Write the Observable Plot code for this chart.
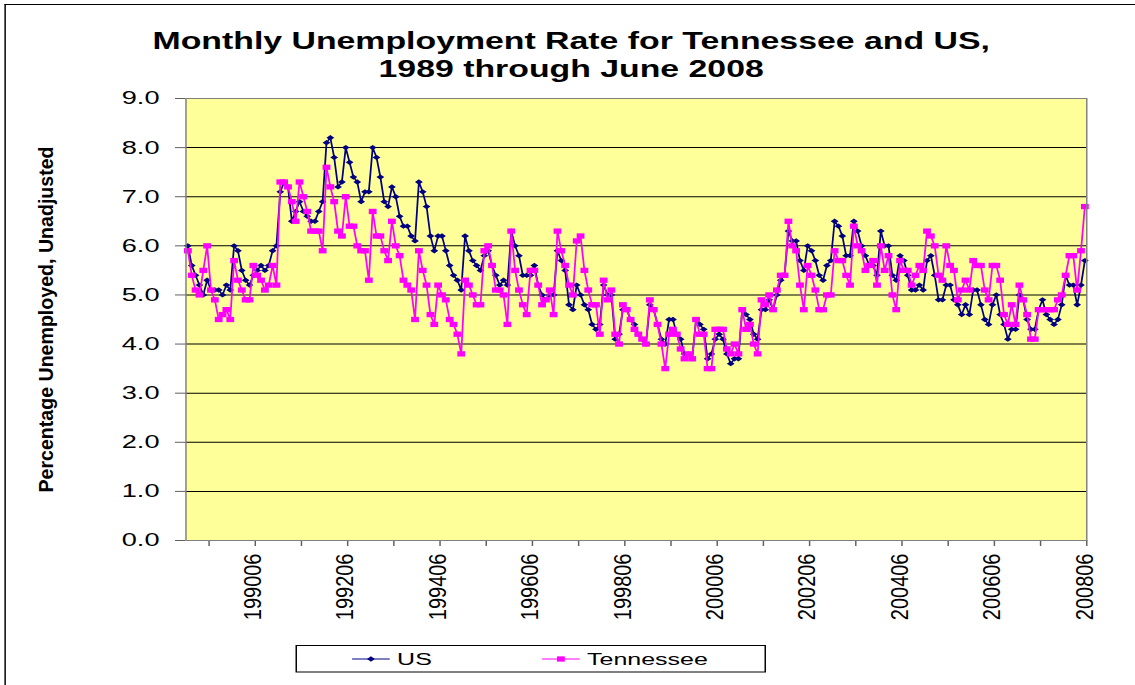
<!DOCTYPE html>
<html>
<head>
<meta charset="utf-8">
<script src="https://cdn.jsdelivr.net/npm/d3@7"></script>
<script src="https://cdn.jsdelivr.net/npm/@observablehq/plot@0.6"></script>
<style>
  html, body { margin: 0; padding: 0; background: #fff; }
  body { width: 1135px; height: 685px; overflow: hidden; position: relative;
         font-family: Arial, "Liberation Sans", sans-serif; color: #000; }
  /* the whole chart is laid out narrow and widened as one piece */
  #chart { position: absolute; left: 0; top: 0; width: 772px; height: 685px;
           transform: scaleX(1.4702); transform-origin: 0 0; }
  #border { position: absolute; left: 3.4px; top: 3.5px; width: 900px; height: 900px;
            border-left: 1px solid #000; border-top: 1px solid #000; }
  #title { position: absolute; left: 0; top: 27px; width: 777px; text-align: center;
           font-weight: bold; font-size: 23px; line-height: 28px; }
  #plot { position: absolute; left: 0; top: 85px; }
  #legend { position: absolute; left: 200.7px; top: 645px; }
</style>
</head>
<body>
<div id="chart">
  <div id="border"></div>
  <div id="title">Monthly Unemployment Rate for Tennessee and US,<br>1989 through June 2008</div>
  <div id="plot"></div>
  <div id="legend"></div>
</div>
<script>
// Monthly rates, January 1989 through June 2008 (percent, not seasonally adjusted)
const firstYear = 1989;
const usRate = [
  6.0, 5.6, 5.4, 5.2, 5.0, 5.3, 5.1, 5.1, 5.1, 5.0, 5.2, 5.1,   // 1989
  6.0, 5.9, 5.5, 5.3, 5.2, 5.4, 5.5, 5.6, 5.5, 5.6, 5.9, 6.0,   // 1990
  7.1, 7.3, 7.2, 6.5, 6.7, 6.9, 6.7, 6.6, 6.5, 6.5, 6.7, 6.9,   // 1991
  8.1, 8.2, 7.8, 7.2, 7.3, 8.0, 7.7, 7.4, 7.3, 6.9, 7.1, 7.1,   // 1992
  8.0, 7.8, 7.4, 6.9, 6.8, 7.2, 7.0, 6.6, 6.4, 6.4, 6.2, 6.1,   // 1993
  7.3, 7.1, 6.8, 6.2, 5.9, 6.2, 6.2, 5.9, 5.6, 5.4, 5.3, 5.1,   // 1994
  6.2, 5.9, 5.7, 5.6, 5.5, 5.8, 5.9, 5.6, 5.4, 5.2, 5.3, 5.2,   // 1995
  6.3, 6.0, 5.8, 5.4, 5.4, 5.4, 5.6, 5.2, 5.0, 4.9, 5.0, 5.0,   // 1996
  5.9, 5.7, 5.5, 4.8, 4.7, 5.2, 5.0, 4.8, 4.7, 4.4, 4.3, 4.4,   // 1997
  5.2, 5.0, 5.0, 4.1, 4.2, 4.7, 4.7, 4.5, 4.4, 4.2, 4.1, 4.0,   // 1998
  4.8, 4.7, 4.4, 4.1, 4.0, 4.5, 4.5, 4.2, 4.1, 3.8, 3.8, 3.7,   // 1999
  4.5, 4.4, 4.3, 3.7, 3.8, 4.1, 4.2, 4.1, 3.8, 3.6, 3.7, 3.7,   // 2000
  4.7, 4.6, 4.5, 4.2, 4.1, 4.7, 4.7, 4.9, 4.7, 5.0, 5.3, 5.4,   // 2001
  6.3, 6.1, 6.1, 5.7, 5.5, 6.0, 5.9, 5.7, 5.4, 5.3, 5.6, 5.7,   // 2002
  6.5, 6.4, 6.2, 5.8, 5.8, 6.5, 6.3, 6.0, 5.8, 5.6, 5.6, 5.4,   // 2003
  6.3, 6.0, 6.0, 5.4, 5.3, 5.8, 5.7, 5.4, 5.1, 5.1, 5.2, 5.1,   // 2004
  5.7, 5.8, 5.4, 4.9, 4.9, 5.2, 5.2, 4.9, 4.8, 4.6, 4.8, 4.6,   // 2005
  5.1, 5.1, 4.8, 4.5, 4.4, 4.8, 5.0, 4.6, 4.4, 4.1, 4.3, 4.3,   // 2006
  5.0, 4.9, 4.5, 4.3, 4.3, 4.7, 4.9, 4.6, 4.5, 4.4, 4.5, 4.8,   // 2007
  5.4, 5.2, 5.2, 4.8, 5.2, 5.7                                  // 2008
];
const tnRate = [
  5.9, 5.4, 5.1, 5.0, 5.5, 6.0, 5.1, 4.9, 4.5, 4.6, 4.7, 4.5,   // 1989
  5.7, 5.3, 5.1, 4.9, 4.9, 5.6, 5.4, 5.3, 5.1, 5.2, 5.6, 5.2,   // 1990
  7.3, 7.3, 7.2, 6.9, 6.5, 7.3, 7.0, 6.7, 6.3, 6.3, 6.3, 5.9,   // 1991
  7.6, 7.2, 6.9, 6.3, 6.2, 7.0, 6.4, 6.4, 6.0, 5.9, 5.9, 5.3,   // 1992
  6.7, 6.2, 6.2, 5.9, 5.7, 6.5, 6.0, 5.8, 5.3, 5.2, 5.1, 4.5,   // 1993
  5.9, 5.5, 5.2, 4.6, 4.4, 5.2, 5.0, 4.9, 4.5, 4.4, 4.2, 3.8,   // 1994
  5.3, 5.2, 5.0, 4.8, 4.8, 5.9, 6.0, 5.6, 5.1, 5.1, 5.0, 4.4,   // 1995
  6.3, 5.5, 5.1, 4.8, 4.6, 5.5, 5.5, 5.2, 4.8, 4.9, 5.1, 4.6,   // 1996
  6.3, 5.9, 5.6, 5.2, 5.0, 6.1, 6.2, 5.5, 5.1, 4.8, 4.8, 4.2,   // 1997
  5.3, 4.9, 5.1, 4.2, 4.0, 4.8, 4.7, 4.5, 4.3, 4.2, 4.1, 4.0,   // 1998
  4.9, 4.7, 4.4, 4.0, 3.5, 4.2, 4.3, 4.2, 3.9, 3.7, 3.8, 3.7,   // 1999
  4.5, 4.2, 4.2, 3.5, 3.5, 4.3, 4.3, 4.3, 3.9, 3.8, 4.0, 3.8,   // 2000
  4.7, 4.3, 4.4, 4.0, 3.8, 4.9, 4.8, 5.0, 4.7, 5.1, 5.4, 5.4,   // 2001
  6.5, 6.0, 5.9, 5.2, 4.7, 5.6, 5.4, 5.1, 4.7, 4.7, 5.0, 5.0,   // 2002
  5.9, 5.7, 5.7, 5.4, 5.2, 6.4, 6.0, 5.9, 5.5, 5.6, 5.7, 5.2,   // 2003
  6.0, 5.5, 5.8, 5.0, 4.7, 5.7, 5.5, 5.5, 5.2, 5.4, 5.6, 5.5,   // 2004
  6.3, 6.2, 6.0, 5.4, 5.3, 6.0, 5.6, 5.5, 4.9, 5.1, 5.3, 5.1,   // 2005
  5.7, 5.6, 5.6, 5.1, 4.9, 5.6, 5.6, 5.3, 4.6, 4.4, 4.8, 4.4,   // 2006
  5.2, 4.9, 4.6, 4.1, 4.1, 4.7, 4.7, 4.7, 4.7, 4.7, 4.9, 5.0,   // 2007
  5.4, 5.8, 5.8, 5.1, 5.9, 6.8                                  // 2008
];
const tickLabels = ["199006", "199206", "199406", "199606", "199806",
                    "200006", "200206", "200406", "200606", "200806"];
const yTicks = [0, 1, 2, 3, 4, 5, 6, 7, 8, 9];
const seriesNames = ["US", "Tennessee"];
const yTitle = "Percentage Unemployed, Unadjusted";

// category codes such as "198901"
const months = usRate.map((_, i) =>
  `${firstYear + Math.floor(i / 12)}${String(i % 12 + 1).padStart(2, "0")}`);
const rows = months.map((m, i) => ({ x: i + 0.5, month: m, us: usRate[i], tn: tnRate[i] }));
const labelPos = tickLabels.map(t => months.indexOf(t) + 0.5);
const yearMarks = d3.range(6, months.length + 1, 12);   // boundaries between categories

const font = "Arial, 'Liberation Sans', sans-serif";
const navy = "#000080", magenta = "#FF00FF";

const plot = Plot.plot({
  width: 772,
  height: 545,
  marginLeft: 126,
  marginRight: 33.3,
  marginTop: 13,
  marginBottom: 90,
  style: { fontFamily: font, fontSize: "18.5px", color: "#000", background: "transparent", overflow: "visible" },
  x: { domain: [0, months.length] },
  y: { domain: [0, 9] },
  marks: [
    Plot.frame({ fill: "#FFFF99" }),
    Plot.gridY(yTicks.slice(1, -1), { stroke: "#000", strokeOpacity: 1, strokeWidth: 1 }),
    Plot.axisY(yTicks, { tickFormat: d => d.toFixed(1), tickSize: 7, tickPadding: 11,
                         stroke: "#606060", fontSize: 18.5, label: null }),
    Plot.axisX(yearMarks, { tickSize: 6, tickFormat: () => "", stroke: "#606060", label: null }),
    Plot.axisX(labelPos, { tickSize: 0, tickPadding: 13, tickRotate: -90, fontSize: 20,
                           tickFormat: v => months[Math.floor(v)], label: null }),
    Plot.text([yTitle], { frameAnchor: "left", dx: -95, rotate: -90, textAnchor: "middle",
                          fontWeight: "bold", fontSize: 19.6, fill: "#000" }),
    Plot.line(rows, { x: "x", y: "us", stroke: navy, strokeWidth: 1.2 }),
    Plot.dot(rows, { x: "x", y: "us", symbol: "diamond2", r: 2.4, fill: navy, stroke: null }),
    Plot.line(rows, { x: "x", y: "tn", stroke: magenta, strokeWidth: 1.2 }),
    Plot.dot(rows, { x: "x", y: "tn", symbol: "square", r: 3.0, fill: magenta, stroke: null }),
    Plot.frame({ stroke: "#808080", strokeWidth: 1 })
  ]
});
document.getElementById("plot").appendChild(plot);

// rotated texts are drawn slimmer across their lines
d3.select(plot).selectAll("text").each(function () {
  const t = this.getAttribute("transform") || "";
  if (/rotate\(-90\)/.test(t)) {
    const k = this.textContent === yTitle ? 0.7 : 0.82;
    this.setAttribute("transform", t + ` scale(1,${k})`);
  }
});

// legend below the plot
const lg = d3.select("#legend").append("svg")
  .attr("width", 321).attr("height", 28)
  .style("display", "block").style("overflow", "visible");
lg.append("rect").attr("x", 0.5).attr("y", 0.5).attr("width", 319).attr("height", 26.5)
  .attr("fill", "#fff").attr("stroke", "#000").attr("stroke-width", 1);
const entries = [
  { name: seriesNames[0], color: navy, x: 38.5, sym: d3.symbolDiamond2, size: 18 },
  { name: seriesNames[1], color: magenta, x: 167.7, sym: d3.symbolSquare, size: 28 }
];
for (const e of entries) {
  lg.append("line").attr("x1", e.x).attr("x2", e.x + 25.6).attr("y1", 14).attr("y2", 14)
    .attr("stroke", e.color).attr("stroke-width", 1.2);
  lg.append("path").attr("d", d3.symbol(e.sym, e.size)())
    .attr("transform", `translate(${e.x + 12.8},14)`).attr("fill", e.color);
  lg.append("text").attr("x", e.x + 30.6).attr("y", 20)
    .attr("font-family", font).attr("font-size", 17).attr("fill", "#000").text(e.name);
}
</script>
</body>
</html>
